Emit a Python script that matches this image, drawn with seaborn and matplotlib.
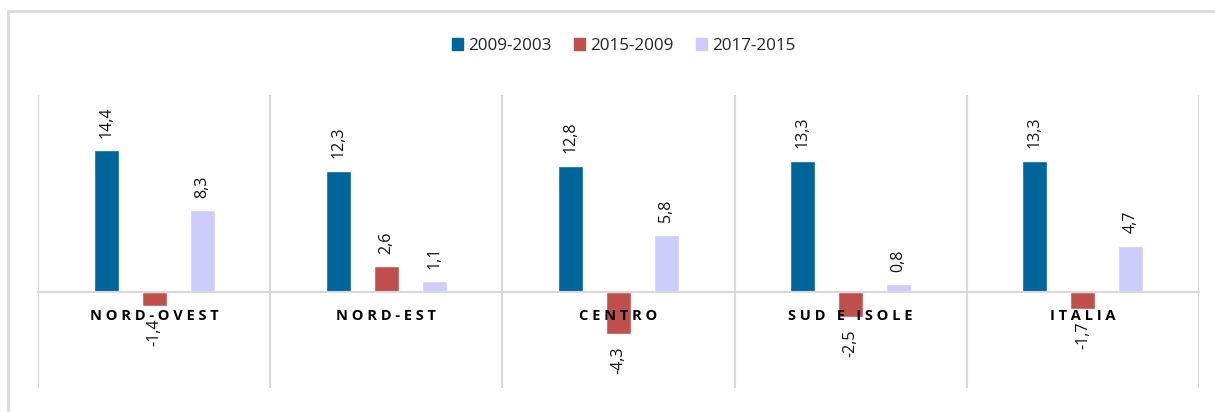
import pandas as pd
import seaborn as sns
import numpy as np
import matplotlib.pyplot as plt
from matplotlib.lines import Line2D

regions = ["NORD-OVEST", "NORD-EST", "CENTRO", "SUD E ISOLE", "ITALIA"]
periods = ["2009-2003", "2015-2009", "2017-2015"]
v_2009_2003 = [14.4, 12.3, 12.8, 13.3, 13.3]
v_2015_2009 = [-1.4, 2.6, -4.3, -2.5, -1.7]
v_2017_2015 = [8.3, 1.1, 5.8, 0.8, 4.7]
colors = ["#006699", "#C0504D", "#CCCCFF"]

df = pd.DataFrame({
    "Area": regions * 3,
    "Periodo": np.repeat(periods, len(regions)),
    "Valore": v_2009_2003 + v_2015_2009 + v_2017_2015,
})

sns.set_theme(style="white")
plt.rcParams["font.family"] = ["Open Sans", "DejaVu Sans"]

fig = plt.figure(figsize=(12.15, 4.12), dpi=100)
ax = fig.add_axes([38/1215, 1-388/412, (1199-38)/1215, (388-95)/412])

sns.barplot(data=df, x="Area", y="Valore", hue="Periodo", palette=colors,
            width=0.62, gap=0.48, ax=ax, legend=False, saturation=1)

for cont, vals in zip(ax.containers, [v_2009_2003, v_2015_2009, v_2017_2015]):
    labs = [f"{v:.1f}".replace(".", ",") for v in vals]
    ax.bar_label(cont, labels=labs, rotation=90, padding=9, fontsize=11.5, color="#111111")

ax.set_ylim(-9.74, 19.98)
ax.set_xlim(-0.5, 4.5)
ax.set_yticks([])
ax.set_xlabel("")
ax.set_ylabel("")
ax.set_axisbelow(False)
for s in ["left", "right", "top"]:
    ax.spines[s].set_visible(False)
ax.spines["bottom"].set_position(("data", 0))
ax.spines["bottom"].set_color("#D9D9D9")
ax.spines["bottom"].set_linewidth(1.5)
ax.vlines(np.arange(-0.5, 5, 1), -9.74, 19.98, color="#D9D9D9", lw=1.5)

ax.set_xticks(range(len(regions)))
ax.set_xticklabels([" ".join(r) for r in regions], fontweight="bold", fontsize=10.5, color="black")
ax.tick_params(axis="x", length=0, pad=12)

handles = [plt.Rectangle((0, 0), 1, 1, color=c) for c in colors]
fig.legend(handles, periods, loc="center", bbox_to_anchor=(624/1215, 1-46/412), ncol=3,
           frameon=False, fontsize=12.3, handlelength=0.65, handleheight=0.65,
           handletextpad=0.3, columnspacing=1.3)

fig.add_artist(Line2D([8/1215, 1], [1-11/412, 1-11/412], color="#D9D9D9", lw=2))
fig.add_artist(Line2D([8/1215, 8/1215], [0, 1-11/412], color="#D9D9D9", lw=2))

fig.savefig("out.png", dpi=100)
